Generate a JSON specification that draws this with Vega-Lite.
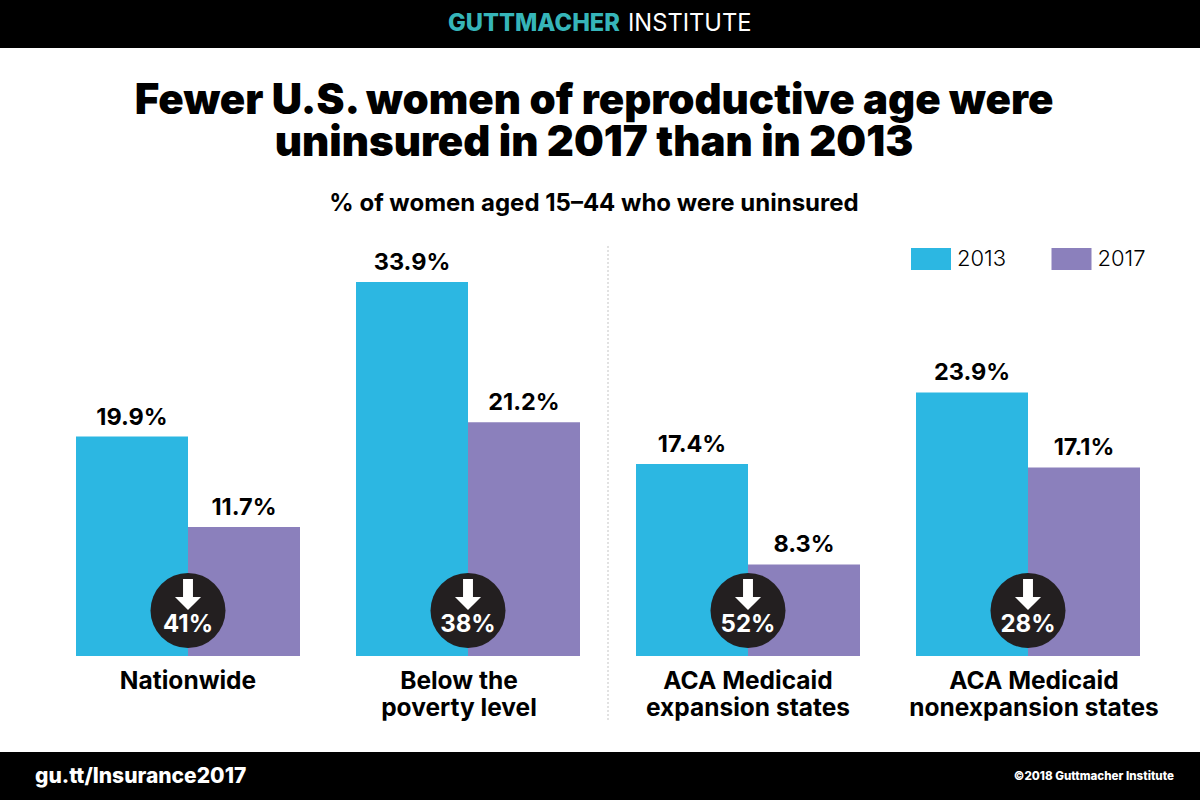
{"$schema":"https://vega.github.io/schema/vega-lite/v6.json","width":1200,"height":800,"padding":0,"autosize":{"type":"none"},"background":"#ffffff","view":{"stroke":null},
"title":{"text":["Fewer U.S. women of reproductive age were","uninsured in 2017 than in 2013"],"subtitle":"% of women aged 15–44 who were uninsured","anchor":"middle","frame":"group","baseline":"top","orient":"top","offset":0,"dy":216.5,"dx":-6,"font":"Inter","fontSize":42,"fontWeight":900,"lineHeight":42,"color":"#000000","subtitleFont":"Inter","subtitleFontSize":24,"subtitleFontWeight":700,"subtitleColor":"#000000","subtitlePadding":26.5},
"datasets":{"bars":[
{"group":"Nationwide","year":"2013","value":0.199},{"group":"Nationwide","year":"2017","value":0.117},
{"group":"Below the|poverty level","year":"2013","value":0.339},{"group":"Below the|poverty level","year":"2017","value":0.212},
{"group":"ACA Medicaid|expansion states","year":"2013","value":0.174},{"group":"ACA Medicaid|expansion states","year":"2017","value":0.083},
{"group":"ACA Medicaid|nonexpansion states","year":"2013","value":0.239},{"group":"ACA Medicaid|nonexpansion states","year":"2017","value":0.171}],
"drops":[{"group":"Nationwide","drop":"41%"},{"group":"Below the|poverty level","drop":"38%"},{"group":"ACA Medicaid|expansion states","drop":"52%"},{"group":"ACA Medicaid|nonexpansion states","drop":"28%"}]},
"layer":[
{"data":{"values":[{"band":"header","top":0,"bottom":48},{"band":"footer","top":752,"bottom":800}]},"mark":{"type":"rect","color":"#000000"},"encoding":{"x":{"value":0},"x2":{"value":1200},"y":{"field":"top","type":"quantitative","scale":null},"y2":{"field":"bottom"}}},
{"data":{"values":[{"t":"GUTTMACHER"}]},"mark":{"type":"text","align":"right","baseline":"middle","font":"Inter","fontSize":23.7,"fontWeight":800,"color":"#36b5b9"},"encoding":{"text":{"field":"t"},"x":{"value":620},"y":{"value":24}}},
{"data":{"values":[{"t":"INSTITUTE"}]},"mark":{"type":"text","align":"left","baseline":"middle","font":"Inter","fontSize":23.7,"fontWeight":400,"color":"#ffffff"},"encoding":{"text":{"field":"t"},"x":{"value":628},"y":{"value":24}}},
{"data":{"values":[{"t":"gu.tt/Insurance2017"}]},"mark":{"type":"text","align":"left","baseline":"middle","font":"Inter","fontSize":21,"fontWeight":800,"color":"#ffffff"},"encoding":{"text":{"field":"t"},"x":{"value":35},"y":{"value":777}}},
{"data":{"values":[{"t":"©2018 Guttmacher Institute"}]},"mark":{"type":"text","align":"right","baseline":"middle","font":"Inter","fontSize":11.6,"fontWeight":800,"color":"#ffffff"},"encoding":{"text":{"field":"t"},"x":{"value":1174},"y":{"value":777}}},
{"data":{"name":"bars"},"mark":{"type":"bar"},"encoding":{
"x":{"field":"group","type":"nominal","sort":null,"scale":{"range":[48,1168],"paddingInner":0,"paddingOuter":0},"axis":{"orient":"bottom","offset":-144,"title":null,"domain":false,"ticks":false,"labelAngle":0,"labelPadding":13,"labelFont":"Inter","labelFontSize":24.5,"labelFontWeight":700,"labelColor":"#000000","labelLineHeight":27,"labelBaseline":"top","labelExpr":"split(datum.label,'|')","labelOverlap":false,"labelLimit":0,"grid":false,"labelOffset":{"condition":[{"test":"datum.value==='Below the|poverty level'","value":-9},{"test":"datum.value==='ACA Medicaid|nonexpansion states'","value":6}],"value":0}}},
"xOffset":{"field":"year","type":"nominal","scale":{"paddingInner":0,"paddingOuter":0.25}},
"y":{"field":"value","type":"quantitative","scale":{"domain":[-0.13055,0.59474],"nice":false,"zero":false},"axis":null},
"y2":{"datum":0},
"color":{"field":"year","type":"nominal","scale":{"domain":["2013","2017"],"range":["#2cb7e2","#8b80bc"]},"legend":{"orient":"none","legendX":911,"legendY":239,"direction":"horizontal","columns":2,"title":null,"symbolType":"M-1,-0.55H1V0.55H-1Z","symbolSize":1600,"symbolStrokeWidth":0,"labelFont":"Inter","labelFontSize":22,"labelFontWeight":300,"labelColor":"#000000","columnPadding":44.5,"labelOffset":6}}}},
{"data":{"name":"bars"},"mark":{"type":"text","baseline":"bottom","dy":-7,"font":"Inter","fontSize":23.5,"fontWeight":700,"color":"#000000"},"encoding":{
"x":{"field":"group","type":"nominal","sort":null},"xOffset":{"field":"year","type":"nominal"},"y":{"field":"value","type":"quantitative"},"text":{"field":"value","type":"quantitative","format":".1%"}}},
{"data":{"values":[{"group":"ACA Medicaid|expansion states","low":-0.058,"high":0.3726}]},"mark":{"type":"rule","color":"#c4c4c4","strokeDash":[2,2],"strokeWidth":1},"encoding":{"x":{"field":"group","type":"nominal","sort":null,"bandPosition":0},"y":{"field":"low","type":"quantitative"},"y2":{"field":"high"}}},
{"data":{"name":"drops"},"mark":{"type":"point","filled":true,"shape":"circle","size":5625,"color":"#231f20","opacity":1},"encoding":{"x":{"field":"group","type":"nominal","sort":null},"y":{"datum":0.04125,"type":"quantitative"}}},
{"data":{"name":"drops"},"mark":{"type":"point","filled":true,"shape":"M-0.32,-1H0.32V0.16H0.84L0,1L-0.84,0.16H-0.32Z","size":961,"color":"#ffffff","opacity":1},"encoding":{"x":{"field":"group","type":"nominal","sort":null},"y":{"datum":0.0558,"type":"quantitative"}}},
{"data":{"name":"drops"},"mark":{"type":"text","baseline":"middle","font":"Inter","fontSize":24,"fontWeight":700,"color":"#ffffff"},"encoding":{"x":{"field":"group","type":"nominal","sort":null},"y":{"datum":0.0285,"type":"quantitative"},"text":{"field":"drop"}}}
]}
